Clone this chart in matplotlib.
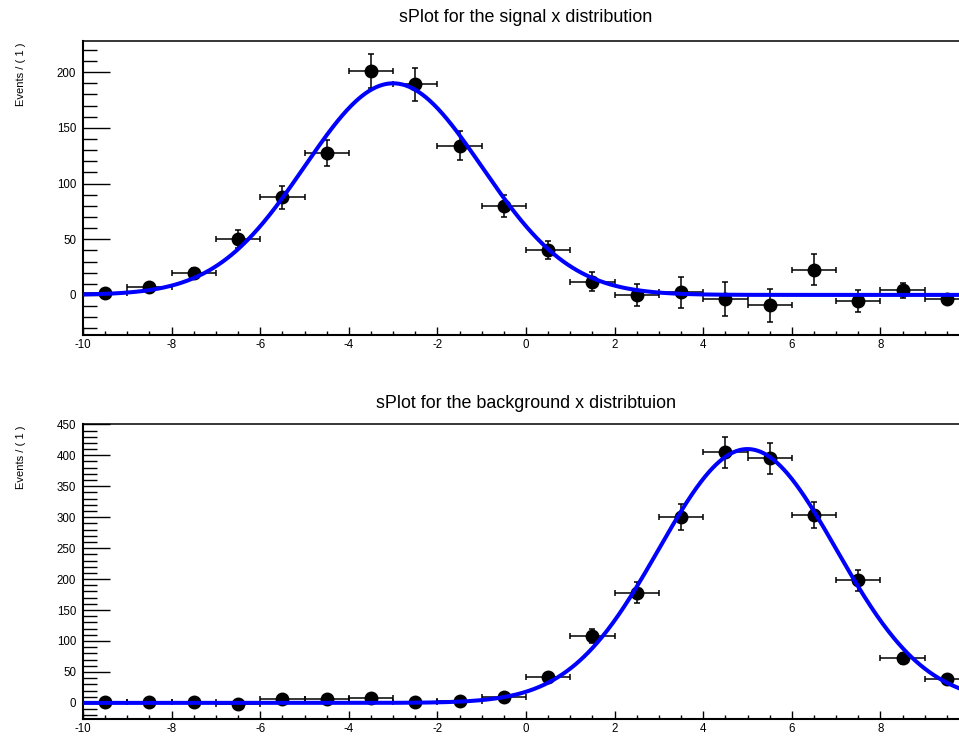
import numpy as np
import matplotlib
matplotlib.use("Agg")
import matplotlib.pyplot as plt
from matplotlib.ticker import MultipleLocator

plt.rcParams['font.family'] = ['Liberation Sans', 'DejaVu Sans']

# ---- data ----
x_centers = [-9.5, -8.5, -7.5, -6.5, -5.5, -4.5, -3.5, -2.5, -1.5, -0.5,
             0.5, 1.5, 2.5, 3.5, 4.5, 5.5, 6.5, 7.5, 8.5, 9.5]
x_halfwidth = [0.5] * 20

sig_values = [1.5, 7, 20, 50.5, 87.5, 127.5, 201, 189, 134, 80,
              40, 12, 0, 2.5, -3.5, -9.5, 22.5, -5.5, 4, -3.5]
sig_errors = [2, 3, 4, 8, 10, 12, 15, 15, 13, 10,
              8, 8.5, 10, 14, 15.5, 14.5, 14, 10, 7, 4]

bkg_values = [1.5, 1.5, 1.5, -1, 7, 7, 7.5, 1.5, 2.5, 10,
              42, 108, 178, 300, 405, 395, 303, 198, 72, 38]
bkg_errors = [2, 2, 2, 2, 3, 3, 3, 2, 2, 3,
              5, 11, 17, 21, 25, 25, 21, 17, 9, 6]

# fitted Gaussian model parameters (mean, sigma, peak height)
sig_model = (-3.0, 2.0, 190.0)
bkg_model = (5.0, 2.0, 410.0)

titles = ["sPlot for the signal x distribution",
          "sPlot for the background x distribtuion"]
ylabel = "Events / ( 1 )"

W, H = 959, 742
fig = plt.figure(figsize=(W / 100, H / 100), dpi=100)

def px_axes(left, top, right, bottom):
    return fig.add_axes([left / W, 1 - bottom / H, (right - left) / W, (bottom - top) / H])

ax1 = px_axes(83, 41, 969, 335)
ax2 = px_axes(83, 424, 969, 719)

xs = np.linspace(-10, 10, 800)

def xfmt(v, p):
    # the x = 10 label lies beyond the picture's right edge
    return "" if v > 9.5 else f"{v:g}"

def draw(ax, vals, errs, model, ylim, title, title_y):
    ax.errorbar(x_centers, vals, yerr=errs, xerr=x_halfwidth, fmt='o',
                color='black', ms=9, elinewidth=1.1, capsize=2.2, capthick=1.1,
                zorder=3)
    m, s, a = model
    ax.plot(xs, a * np.exp(-0.5 * ((xs - m) / s) ** 2), color='#0000ff', lw=2.9,
            zorder=4, solid_capstyle='butt')
    ax.set_xlim(-10, 10)
    ax.set_ylim(*ylim)
    ax.xaxis.set_major_locator(MultipleLocator(2))
    ax.xaxis.set_minor_locator(MultipleLocator(0.5))
    ax.yaxis.set_major_locator(MultipleLocator(50))
    ax.yaxis.set_minor_locator(MultipleLocator(10))
    ax.tick_params(axis='y', which='major', direction='in', length=19.5, width=1.0,
                   labelsize=8.3, pad=5)
    ax.tick_params(axis='y', which='minor', direction='in', length=10, width=1.0)
    ax.tick_params(axis='x', which='major', direction='in', length=6, width=1.0,
                   labelsize=8.3, pad=3)
    ax.tick_params(axis='x', which='minor', direction='in', length=3, width=1.0)
    ax.tick_params(top=False, right=False)
    for sp in ax.spines.values():
        sp.set_linewidth(1.1)
    ax.spines['bottom'].set_linewidth(1.5)
    ax.spines['left'].set_linewidth(1.5)
    ax.xaxis.set_major_formatter(plt.FuncFormatter(xfmt))
    ax.yaxis.set_major_formatter(plt.FuncFormatter(lambda v, p: f"{v:g}"))
    fig.text(526 / W, 1 - title_y / H, title, ha='center', va='center', fontsize=12.9)

draw(ax1, sig_values, sig_errors, sig_model, (-36, 228), titles[0], 18)
draw(ax2, bkg_values, bkg_errors, bkg_model, (-26, 450.5), titles[1], 403)

fig.text(21 / W, 1 - 42 / H, ylabel, rotation=90, ha='center', va='top', fontsize=8)
fig.text(21 / W, 1 - 425 / H, ylabel, rotation=90, ha='center', va='top', fontsize=8)

fig.savefig("out.png", dpi=100)
